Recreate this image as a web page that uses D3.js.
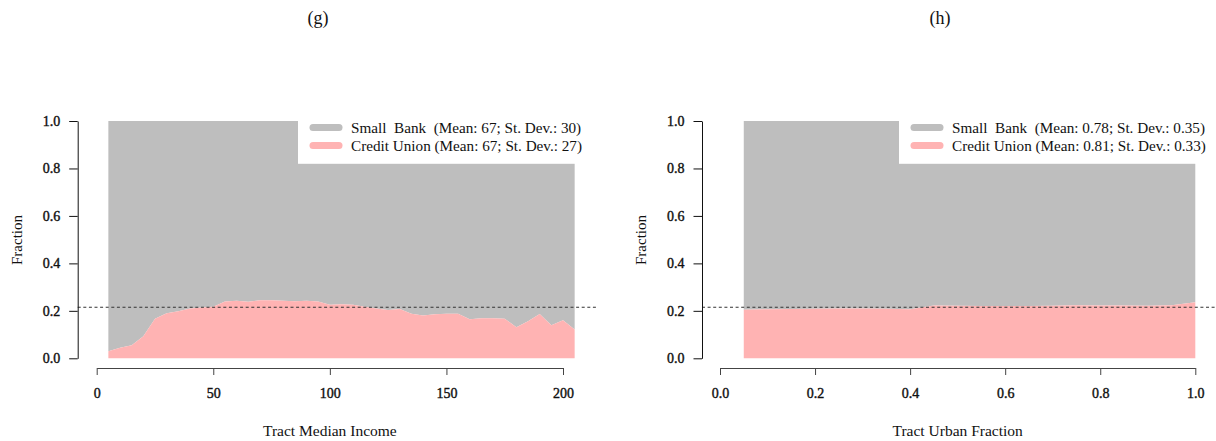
<!DOCTYPE html>
<html>
<head>
<meta charset="utf-8">
<script src="https://cdn.jsdelivr.net/npm/d3@7"></script>
<style>
  body { margin: 0; background: #fff; }
  svg { display: block; }
  text { font-family: "Liberation Serif", "Times New Roman", serif; fill: #111; }
</style>
</head>
<body>
<div class="board"></div>
<script>
// panel (g): credit union share by tract median income
var incomeX = [5, 10, 15, 20, 25, 30, 35, 40, 45, 50, 55, 60, 65, 70, 75, 80, 85, 90, 95, 100,
  105, 110, 115, 120, 125, 130, 135, 140, 145, 150, 155, 160, 165, 170, 175, 180, 185, 190, 195, 200, 205];
var incomeCU = [0.030, 0.044, 0.055, 0.093, 0.167, 0.190, 0.198, 0.210, 0.214, 0.217, 0.239, 0.242,
  0.238, 0.245, 0.245, 0.243, 0.240, 0.243, 0.239, 0.226, 0.228, 0.226, 0.217, 0.210, 0.204, 0.208,
  0.188, 0.180, 0.186, 0.188, 0.188, 0.165, 0.169, 0.169, 0.167, 0.131, 0.156, 0.187, 0.139, 0.160, 0.121];
var incomeTicks = [0, 50, 100, 150, 200];

// panel (h): credit union share by tract urban fraction
var urbanX = [0.05, 0.10, 0.15, 0.20, 0.25, 0.30, 0.35, 0.40, 0.45, 0.50,
  0.55, 0.60, 0.65, 0.70, 0.75, 0.80, 0.85, 0.90, 0.95, 1.00];
var urbanCU = [0.205, 0.207, 0.208, 0.209, 0.210, 0.210, 0.209, 0.207, 0.222, 0.221,
  0.220, 0.220, 0.220, 0.221, 0.224, 0.222, 0.223, 0.221, 0.224, 0.236];
var urbanTicks = [0, 0.2, 0.4, 0.6, 0.8, 1.0];

var fracTicks = [0, 0.2, 0.4, 0.6, 0.8, 1.0];
var overallCU = 0.215;

var incomeLegend = ["Small  Bank  (Mean: 67; St. Dev.: 30)", "Credit Union (Mean: 67; St. Dev.: 27)"];
var urbanLegend = ["Small  Bank  (Mean: 0.78; St. Dev.: 0.35)", "Credit Union (Mean: 0.81; St. Dev.: 0.33)"];

var GREY = "#bebebe", PINK = "#ffb3b3";

var svg = d3.select(".board").append("svg")
  .attr("width", 1216).attr("height", 441);

var y = d3.scaleLinear().domain([0, 1]).range([358.3, 121]);

var drawPanel = function(p) {
  var g = svg.append("g");
  var x = d3.scaleLinear().domain(p.xdom).range(p.xrange);
  var pts = p.xs.map(function(d, i) { return {x: d, v: p.cu[i]}; });

  // small bank share on top of credit union share
  g.append("path").datum(pts)
    .attr("fill", GREY)
    .attr("d", d3.area().x(function(d) { return x(d.x); })
      .y0(function(d) { return y(d.v); }).y1(y(1)));
  g.append("path").datum(pts)
    .attr("fill", PINK)
    .attr("d", d3.area().x(function(d) { return x(d.x); })
      .y0(y(0)).y1(function(d) { return y(d.v); }));

  // overall share
  g.append("line")
    .attr("x1", p.axisX).attr("x2", p.dashEnd)
    .attr("y1", y(overallCU)).attr("y2", y(overallCU))
    .attr("stroke", "#333").attr("stroke-width", 1.1)
    .attr("stroke-dasharray", "3,2.6");

  // legend
  var lg = g.append("g");
  lg.append("rect")
    .attr("x", p.legX).attr("y", 112)
    .attr("width", p.legW).attr("height", 163.8 - 112)
    .attr("fill", "#fff");
  [GREY, PINK].forEach(function(c, i) {
    var yy = 127.5 + i * 18;
    lg.append("line")
      .attr("x1", p.legX + 15).attr("x2", p.legX + 41)
      .attr("y1", yy).attr("y2", yy)
      .attr("stroke", c).attr("stroke-width", 7).attr("stroke-linecap", "round");
    lg.append("text")
      .attr("x", p.legX + 53).attr("y", yy + 5)
      .style("white-space", "pre")
      .style("font-size", "15.2px")
      .text(p.legend[i]);
  });

  // y axis
  var ya = g.append("g")
    .attr("transform", "translate(" + p.axisX + ",0)")
    .call(d3.axisLeft(y).tickValues(fracTicks).tickSize(8.5).tickSizeOuter(0)
      .tickPadding(9).tickFormat(d3.format(".1f")));
  ya.select(".domain").attr("stroke", "#111");
  ya.selectAll(".tick line").attr("stroke", "#111");
  ya.selectAll("text").attr("font-family", null).attr("font-size", null)
    .style("font-size", "14px").attr("stroke", "#111").attr("stroke-width", 0.4);

  // x axis
  var xa = g.append("g")
    .attr("transform", "translate(0,368)")
    .call(d3.axisBottom(x).tickValues(p.ticks).tickSize(7).tickSizeOuter(0)
      .tickPadding(13).tickFormat(p.fmt));
  xa.select(".domain").attr("stroke", "#444");
  xa.selectAll(".tick line").attr("stroke", "#444");
  xa.selectAll("text").attr("font-family", null).attr("font-size", null)
    .style("font-size", "14px").attr("stroke", "#111").attr("stroke-width", 0.4);

  // axis titles
  g.append("text")
    .attr("x", (p.xrange[0] + p.xrange[1]) / 2).attr("y", 436)
    .attr("text-anchor", "middle").style("font-size", "15.5px")
    .text(p.xlabel);
  g.append("text")
    .attr("transform", "translate(" + p.ylabX + ",240) rotate(-90)")
    .attr("text-anchor", "middle").style("font-size", "15px")
    .text("Fraction");

  // panel label
  g.append("text")
    .attr("x", p.titleX).attr("y", 24)
    .attr("text-anchor", "middle").style("font-size", "18px")
    .text(p.title);
};

drawPanel({
  xs: incomeX, cu: incomeCU, ticks: incomeTicks, fmt: d3.format("d"),
  xdom: [0, 200], xrange: [96.7, 563],
  axisX: 77.7, dashEnd: 596, ylabX: 22,
  legX: 298, legW: 305, legend: incomeLegend,
  xlabel: "Tract Median Income", title: "(g)", titleX: 318
});

drawPanel({
  xs: urbanX, cu: urbanCU, ticks: urbanTicks, fmt: d3.format(".1f"),
  xdom: [0, 1], xrange: [720, 1195.3],
  axisX: 702, dashEnd: 1216, ylabX: 646,
  legX: 899, legW: 317, legend: urbanLegend,
  xlabel: "Tract Urban Fraction", title: "(h)", titleX: 940
});
</script>
</body>
</html>
